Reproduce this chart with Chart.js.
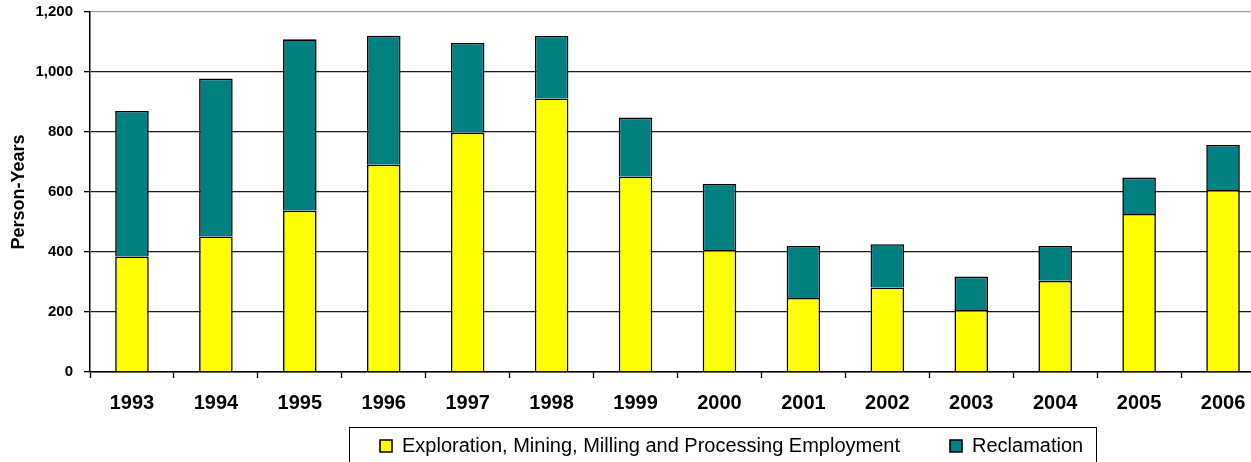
<!DOCTYPE html>
<html>
<head>
<meta charset="utf-8">
<script src="https://cdn.jsdelivr.net/npm/chart.js@4/dist/chart.umd.min.js"></script>
<style>
  html, body { margin: 0; padding: 0; background: #fff; overflow: hidden; }
  #wrap { position: absolute; left: 0; top: 0; width: 1275px; height: 500px; }
</style>
</head>
<body>
<div id="wrap"><canvas id="chart"></canvas></div>
<script>
// --- data ---
const years = ['1993', '1994', '1995', '1996', '1997', '1998', '1999',
               '2000', '2001', '2002', '2003', '2004', '2005', '2006'];
const exploration = [385, 452, 538, 691, 798, 912, 651, 407, 247, 282, 207, 304, 527, 607];
const reclamation = [485, 526, 571, 430, 299, 208, 197, 220, 173, 144, 111, 116, 121, 150];
const yTicks = [0, 200, 400, 600, 800, 1000, 1200];

const FONT = '"Liberation Sans", Arial, sans-serif';

// moves the legend under the plot like in the excel picture and draws its frame
const legendFrame = {
    id: 'legendFrame',
    afterLayout(chart) {
        const lg = chart.legend;
        if (!lg) return;
        const pad = lg.options.labels.padding;
        const dx = 380 - (lg.left + pad);
        const dy = 386 - lg.top;
        lg.left += dx; lg.right += dx;
        lg.top += dy; lg.bottom += dy;
    },
    afterDraw(chart) {
        const lg = chart.legend;
        if (!lg || !lg.legendHitBoxes || !lg.legendHitBoxes.length) return;
        const hb = lg.legendHitBoxes;
        const first = hb[0], last = hb[hb.length - 1];
        const x0 = Math.round(first.left - 31) + 0.5;
        const x1 = Math.round(last.left + last.width + 13) + 0.5;
        const y0 = 427.5;
        const ctx = chart.ctx;
        ctx.save();
        ctx.strokeStyle = '#000';
        ctx.lineWidth = 1;
        ctx.strokeRect(x0, y0, x1 - x0, chart.height + 10 - y0);
        ctx.restore();
    }
};

const ctx = document.getElementById('chart');
new Chart(ctx, {
    type: 'bar',
    data: {
        labels: years,
        datasets: [
            {
                label: 'Exploration, Mining, Milling and Processing Employment',
                data: exploration,
                backgroundColor: '#FFFF00',
                borderColor: '#000',
                borderWidth: 1.6,
                stack: 's'
            },
            {
                label: 'Reclamation',
                data: reclamation,
                backgroundColor: '#008080',
                borderColor: '#000',
                borderWidth: 1.6,
                stack: 's'
            }
        ]
    },
    options: {
        responsive: true,
        maintainAspectRatio: false,
        animation: false,
        layout: { padding: { top: 12, right: 10, left: 0, bottom: 0 } },
        datasets: { bar: { barPercentage: 0.4, categoryPercentage: 1 } },
        scales: {
            x: {
                stacked: true,
                offset: true,
                grid: {
                    offset: true,
                    drawOnChartArea: false,
                    drawTicks: true,
                    tickLength: 6,
                    tickColor: '#000',
                    tickWidth: 1.3
                },
                border: { display: true, color: '#000', width: 1.5 },
                ticks: {
                    color: '#000',
                    padding: 13,
                    font: { family: FONT, size: 20, weight: 'bold' }
                },
                afterFit(s) {
                    s.height = Math.max(8, s.chart.height - s.chart.legend.height - 372);
                }
            },
            y: {
                stacked: true,
                min: 0,
                max: 1200,
                afterBuildTicks(s) { s.ticks = yTicks.map(v => ({ value: v })); },
                grid: {
                    color: c => (c.tick && c.tick.value === 1200) ? '#9a9a9a' : '#1a1a1a',
                    lineWidth: 1.3,
                    drawTicks: true,
                    tickLength: 6,
                    tickColor: '#000'
                },
                border: { display: true, color: '#000', width: 1.5 },
                ticks: {
                    color: '#000',
                    padding: 11,
                    font: { family: FONT, size: 15, weight: 'bold' },
                    callback: v => Number(v).toLocaleString('en-US')
                },
                title: {
                    display: true,
                    text: 'Person-Years',
                    color: '#000',
                    padding: { top: 8, bottom: 0 },
                    font: { family: FONT, size: 18, weight: 'bold' }
                },
                afterFit(s) {
                    s.width = 90;
                    s.paddingTop = 0;
                    s.paddingBottom = 0;
                }
            }
        },
        plugins: {
            legend: {
                position: 'bottom',
                align: 'start',
                labels: {
                    color: '#000',
                    boxWidth: 12,
                    boxHeight: 12,
                    padding: 50,
                    font: { family: FONT, size: 20 }
                }
            },
            tooltip: { enabled: false }
        }
    },
    plugins: [legendFrame]
});
</script>
</body>
</html>
